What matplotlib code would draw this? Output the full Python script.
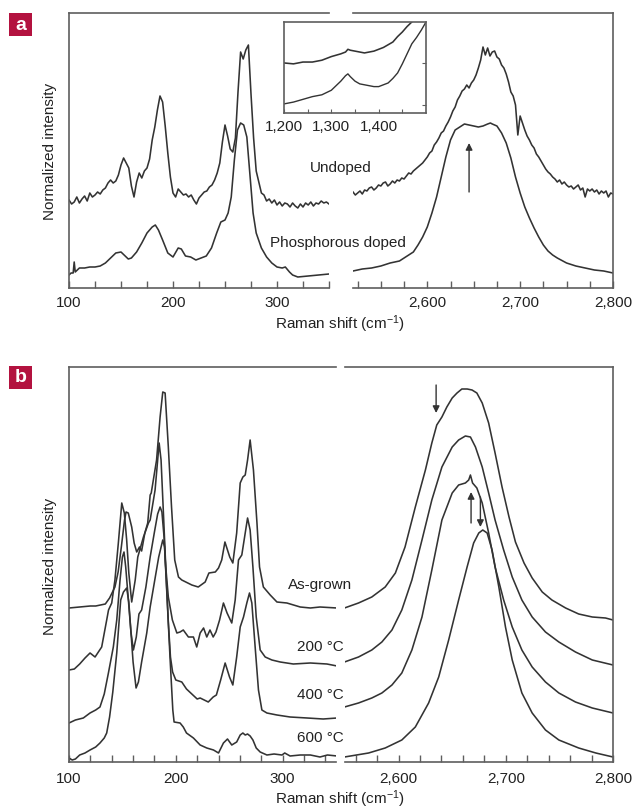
import numpy as np
import matplotlib.pyplot as plt
from matplotlib.patches import Rectangle

plt.rcParams['font.family'] = ['Liberation Sans', 'DejaVu Sans']
plt.rcParams['mathtext.default'] = 'regular'

LINE = '#333333'
FRAME = '#5e5e5e'
TXT = '#222222'
RED = '#b3123f'
W, H = 636, 809
FS = 11
LW = 1.15

# ---- panel a: undoped (noisy) and phosphorous doped ----
a_und_lx = np.arange(100, 352.5, 2.5)
a_und_ly = [88, 84, 86, 91, 85, 89, 92, 87, 95, 91, 93, 96, 94, 98, 100, 105, 108, 105, 107, 113,
            123, 130, 125, 120, 102, 91, 106, 115, 110, 117, 120, 129, 148, 161, 178, 192, 186, 162, 135, 111,
            95, 91, 99, 96, 93, 94, 91, 93, 88, 84, 90, 93, 96, 97, 101, 103, 108, 115, 125, 146,
            163, 152, 139, 136, 150, 196, 236, 229, 238, 243, 194, 150, 117, 106, 95, 93, 87, 89, 85, 88,
            83, 86, 82, 85, 84, 81, 85, 82, 80, 84, 81, 85, 83, 86, 82, 85, 84, 87, 85, 86, 84]
a_und_rx = np.arange(2520, 2802.5, 2.5)
a_und_ry = [96, 93, 95, 97, 94, 98, 97, 100, 101, 98, 100, 103, 102, 105, 106, 102, 104, 107, 105, 108,
            107, 110, 109, 112, 115, 114, 117, 119, 121, 123, 125, 128, 131, 135, 137, 143, 146, 150, 155, 157,
            162, 166, 171, 177, 181, 188, 192, 197, 199, 203, 200, 205, 208, 213, 220, 228, 241, 233, 240, 232,
            236, 237, 231, 229, 223, 220, 214, 206, 196, 192, 183, 153, 172, 165, 158, 152, 148, 143, 140, 134,
            131, 127, 123, 119, 116, 114, 111, 109, 106, 108, 104, 106, 103, 101, 102, 99, 101, 103, 98, 100,
            91, 99, 97, 99, 96, 98, 94, 97, 95, 97, 91, 95, 94]

a_dop_lx = [100, 102, 104, 105, 106, 110, 115, 120, 125, 130, 135, 140, 145, 150, 153, 157, 160, 165, 170, 175,
            180, 183, 186, 190, 195, 200, 205, 208, 212, 217, 222, 227, 232, 237, 242, 246, 250, 253, 256, 259,
            262, 265, 268, 271, 274, 277, 280, 285, 290, 295, 300, 305, 308, 312, 315, 320, 330, 340, 350]
a_dop_ly = [13, 15, 15, 26, 16, 20, 20, 21, 21, 22, 25, 30, 35, 36, 33, 29, 30, 36, 45, 55,
            61, 63, 58, 48, 35, 31, 40, 39, 32, 31, 28, 30, 32, 40, 55, 66, 68, 75, 91, 128,
            158, 165, 163, 151, 113, 75, 55, 40, 31, 25, 21, 20, 21, 16, 13, 11, 12, 13, 14]
a_dop_rx = [2520, 2530, 2540, 2550, 2560, 2570, 2575, 2580, 2585, 2590, 2595, 2600, 2605, 2610, 2615, 2620,
            2625, 2630, 2635, 2640, 2645, 2650, 2655, 2660, 2665, 2668, 2670, 2675, 2680, 2685, 2690, 2695,
            2700, 2705, 2710, 2715, 2720, 2725, 2730, 2735, 2740, 2750, 2760, 2770, 2780, 2790, 2800]
a_dop_ry = [17, 19, 20, 22, 25, 27, 30, 33, 36, 43, 51, 61, 75, 91, 111, 131,
            148, 158, 161, 164, 163, 162, 161, 162, 164, 165, 164, 162, 155, 145, 130, 111,
            95, 81, 70, 60, 51, 43, 37, 33, 30, 25, 22, 20, 18, 17, 15]

# inset (D band region)
in_und_x = [1200, 1220, 1240, 1260, 1280, 1300, 1320, 1330, 1335, 1340, 1350, 1360, 1370, 1380, 1390, 1400,
            1410, 1420, 1430, 1440, 1450, 1460, 1470]
in_und_y = [55, 54, 56, 56, 58, 62, 65, 67, 70, 69, 68, 67, 66, 67, 68, 70, 72, 75, 78, 84, 89, 95, 100]
in_dop_x = [1200, 1220, 1240, 1260, 1280, 1300, 1310, 1320, 1330, 1335, 1340, 1350, 1360, 1370, 1380, 1390,
            1400, 1410, 1420, 1430, 1440, 1450, 1460, 1470, 1480, 1490, 1500]
in_dop_y = [10, 12, 15, 18, 20, 25, 30, 35, 41, 43, 40, 35, 32, 31, 30, 29, 29, 31, 33, 38, 44, 54, 65, 76, 83, 91, 100]

# ---- panel b: annealing series ----
b_names = ['As-grown', '200 \u00b0C', '400 \u00b0C', '600 \u00b0C']
b_lx = [
    [100, 110, 120, 125, 134, 138, 143, 146, 149, 152, 153.4, 155.5, 158.7, 161, 163.4, 166, 168, 171, 173.7, 176,
     177, 182, 185.3, 187.8, 190, 193, 196, 199, 202.5, 205.6, 215, 221, 227.5, 231, 237, 240, 243, 246, 250.5, 253.4,
     257, 260.3, 262.8, 265, 267.2, 269.6, 272.7, 276, 278.4, 282, 288.4, 294.7, 304, 316.5, 326, 335, 351],
    [100, 105, 110, 115, 119.7, 124.4, 130.6, 135.3, 137, 140, 143, 146.2, 149.4, 151.8, 154, 156, 158.7, 162, 164.4, 169.7,
     174.4, 176, 180.6, 184.4, 186.2, 188.4, 190.6, 193, 196.8, 201, 204, 207, 211.8, 216.5, 219.6, 222.8, 226, 229, 232, 235,
     237.6, 241, 244.6, 248, 252.4, 255.6, 258.7, 261.8, 265, 267.2, 269.6, 272.2, 275.3, 279, 283.7, 290, 297.8, 310, 326, 341.5, 351],
    [100, 106, 113.4, 119.7, 125, 129, 133, 136.9, 141.5, 144.7, 147.8, 150, 151.5, 153.1, 155.6, 158, 160.3, 163, 165.5, 168,
     172, 176, 180, 183, 185.3, 187, 189, 191, 193, 195, 197, 200, 205.6, 210, 215, 220, 222.8, 230.4, 235, 238,
     242, 246.2, 250.3, 253.4, 257, 260.3, 263.4, 266.5, 269, 271.2, 274.3, 277.4, 280.6, 285.3, 294.7, 307, 323, 338, 351],
    [100, 103, 106, 110, 115, 119.7, 125, 129, 133, 135.3, 138, 141, 144.7, 148.4, 151, 154, 156, 158, 160, 162.8,
     165, 168, 172.8, 176, 180, 184, 187.8, 189.5, 191.6, 194.7, 197.2, 198.4, 204, 207, 210, 216.5, 222.8, 229, 235.3, 240,
     244.6, 248.4, 252.4, 257, 260.3, 262.8, 265, 267.2, 269.6, 272.2, 275.3, 279, 285.3, 292, 299.4, 302, 307, 316.5, 326, 335, 342, 351],
]
b_ly = [
    [154, 155, 156, 156, 158, 164, 175, 190, 215, 242, 250, 249, 235, 219, 210, 215, 211, 229, 239, 267,
     269, 302, 345, 370, 369, 315, 255, 202, 185, 182, 177, 175, 180, 189, 190, 194, 202, 220, 205, 199,
     229, 279, 285, 287, 302, 322, 292, 239, 195, 175, 167, 160, 159, 155, 154, 155, 154],
    [92, 93, 98, 104, 109, 105, 115, 142, 152, 159, 182, 219, 259, 249, 222, 189, 160, 182, 205, 225,
     239, 242, 272, 319, 302, 249, 195, 165, 142, 129, 130, 132, 125, 125, 115, 129, 134, 125, 132, 125,
     130, 142, 159, 149, 139, 162, 202, 207, 229, 244, 232, 195, 145, 112, 105, 102, 100, 98, 99, 98, 96],
    [39, 42, 44, 49, 52, 55, 68, 89, 115, 142, 182, 205, 210, 195, 162, 130, 112, 125, 148, 152,
     175, 205, 230, 248, 255, 250, 225, 185, 140, 105, 90, 82, 80, 73, 68, 63, 64, 60, 65, 67,
     82, 99, 85, 77, 105, 135, 145, 159, 169, 159, 115, 72, 52, 49, 47, 45, 44, 43, 44],
    [4, 2, 3, 7, 9, 12, 15, 19, 24, 29, 45, 70, 109, 162, 170, 174, 160, 130, 100, 74,
     80, 100, 129, 155, 180, 205, 222, 215, 169, 102, 52, 40, 39, 35, 29, 24, 17, 14, 12, 9,
     19, 23, 17, 20, 27, 29, 27, 28, 26, 22, 14, 10, 7, 8, 7, 9, 6, 7, 7, 5, 7, 6],
]
b_rx = [
    [2549.5, 2562.6, 2575, 2587.5, 2597, 2606, 2615.6, 2625, 2631, 2635.6, 2640.4, 2645, 2650, 2654.5, 2659, 2664,
     2668.5, 2673, 2678, 2684, 2690, 2696.5, 2703, 2709, 2717, 2724.6, 2734, 2743, 2755.8, 2768, 2780.7, 2793, 2800],
    [2549.5, 2562.6, 2575, 2584.4, 2593.8, 2603, 2612.4, 2621.8, 2631, 2640.4, 2650, 2656, 2662.3, 2667, 2671.7, 2678,
     2684, 2690, 2698, 2706, 2715, 2724.6, 2737, 2749.5, 2765, 2780.7, 2800],
    [2549.5, 2562.6, 2575, 2584.4, 2593.8, 2603, 2612.4, 2621.8, 2631, 2640.4, 2650, 2656, 2662.3, 2665.4, 2667, 2669,
     2673, 2678, 2684, 2690, 2698, 2706, 2715, 2724.6, 2737, 2749.5, 2765, 2780.7, 2800],
    [2549.5, 2572, 2587.5, 2603, 2615.6, 2628, 2637.4, 2646.7, 2656, 2663.9, 2670, 2674.8, 2678.5, 2682.6, 2687.2, 2693.5,
     2699.7, 2706, 2715, 2724.6, 2737, 2749.5, 2768, 2784, 2800],
]
b_ry = [
    [154, 159, 165, 175, 189, 215, 255, 292, 319, 337, 345, 355, 364, 369, 373, 373,
     372, 369, 359, 339, 309, 275, 245, 220, 199, 184, 170, 162, 154, 148, 145, 144, 142],
    [100, 105, 112, 120, 132, 152, 182, 222, 262, 295, 315, 322, 326, 325, 315, 295,
     269, 242, 212, 185, 162, 145, 130, 120, 110, 102, 97],
    [55, 59, 64, 69, 77, 89, 112, 145, 192, 242, 269, 277, 279, 282, 287, 279,
     274, 259, 229, 195, 162, 135, 112, 95, 80, 69, 60, 54, 49],
    [5, 9, 14, 22, 35, 59, 85, 122, 162, 195, 219, 229, 232, 229, 212, 175,
     135, 102, 69, 49, 32, 22, 14, 9, 5],
]

fig = plt.figure(figsize=(W / 100, H / 100), dpi=100)


def px_axes(x0, y0, x1, y1):
    return fig.add_axes([x0 / W, 1 - y1 / H, (x1 - x0) / W, (y1 - y0) / H])


def style_pair(axl, axr, lticks, rticks, ymax, pad):
    for ax in (axl, axr):
        ax.set_ylim(0, ymax)
        ax.set_yticks([])
        for s in ax.spines.values():
            s.set_color(FRAME)
            s.set_linewidth(1.2)
        ax.tick_params(axis='x', direction='in', length=5, width=1, color=FRAME,
                       labelsize=FS, pad=pad, labelcolor=TXT)
    axl.spines['right'].set_visible(False)
    axr.spines['left'].set_visible(False)
    axl.set_xticks(lticks)
    axl.set_xticklabels([f'{t:,}' if t % 100 == 0 else '' for t in lticks])
    axr.set_xticks(rticks)
    axr.set_xticklabels([f'{t:,}' if t % 100 == 0 else '' for t in rticks])


# panel a
axa1 = px_axes(69, 13, 329, 288)
axa2 = px_axes(353, 13, 613, 288)
axa1.plot(a_und_lx, a_und_ly, color=LINE, lw=LW)
axa1.plot(a_dop_lx, a_dop_ly, color=LINE, lw=LW)
axa2.plot(a_und_rx, a_und_ry, color=LINE, lw=LW)
axa2.plot(a_dop_rx, a_dop_ry, color=LINE, lw=LW)
axa1.set_xlim(100, 350)
axa2.set_xlim(2520, 2800)
style_pair(axa1, axa2, list(range(100, 351, 25)), list(range(2525, 2801, 25)), 275, 6)
axa2.annotate('', xy=(2645, 145), xytext=(2645, 96),
              arrowprops=dict(arrowstyle='-|>', color=LINE, lw=1.0, mutation_scale=10, shrinkA=0, shrinkB=0))

# inset
axi = px_axes(284, 22, 426, 113)
axi.plot(in_und_x, in_und_y, color=LINE, lw=LW)
axi.plot(in_dop_x, in_dop_y, color=LINE, lw=1.0)
axi.set_xlim(1200, 1500)
axi.set_ylim(0, 100)
axi.set_xticks([1200, 1250, 1300, 1350, 1400, 1450])
axi.set_xticklabels(['1,200', '', '1,300', '', '1,400', ''])
axi.set_yticks([9, 55])
axi.yaxis.tick_right()
axi.tick_params(axis='y', direction='in', length=3, color=FRAME, labelright=False)
axi.tick_params(axis='x', direction='in', length=3, color=FRAME, labelsize=FS, pad=5, labelcolor=TXT)
for s in axi.spines.values():
    s.set_color(FRAME)
    s.set_linewidth(1.2)

fig.text(341 / W, 1 - 168 / H, 'Undoped', ha='center', va='center', fontsize=FS, color=TXT)
fig.text(338 / W, 1 - 243 / H, 'Phosphorous doped', ha='center', va='center', fontsize=FS, color=TXT)

# panel b
axb1 = px_axes(69, 367, 336, 762)
axb2 = px_axes(345, 367, 613, 762)
for xs, ys in zip(b_lx, b_ly):
    axb1.plot(xs, ys, color=LINE, lw=LW)
for xs, ys in zip(b_rx, b_ry):
    axb2.plot(xs, ys, color=LINE, lw=LW)
axb1.set_xlim(100, 350)
axb2.set_xlim(2550, 2800)
style_pair(axb1, axb2, list(range(100, 351, 20)), list(range(2560, 2801, 20)), 395, 7)
for x, tail, head in [(2635, 377, 349), (2667.6, 239, 270), (2676.3, 265, 235)]:
    axb2.annotate('', xy=(x, head), xytext=(x, tail),
                  arrowprops=dict(arrowstyle='-|>', color=LINE, lw=1.0, mutation_scale=10, shrinkA=0, shrinkB=0))

for name, yc, xr in zip(b_names, [585, 647, 695, 738], [352, 344, 344, 344]):
    fig.text(xr / W, 1 - yc / H, name, ha='right', va='center', fontsize=FS, color=TXT)

# shared labels
for yc in (151, 566):
    fig.text(50 / W, 1 - yc / H, 'Normalized intensity', rotation=90, ha='center', va='center',
             fontsize=FS, color=TXT)
for yc in (324, 799):
    fig.text(340 / W, 1 - yc / H, 'Raman shift (cm$^{\u2212 1}$)', ha='center', va='center',
             fontsize=FS, color=TXT)

# panel letters
for letter, y0 in (('a', 13), ('b', 366)):
    fig.patches.append(Rectangle((9 / W, 1 - (y0 + 23) / H), 23 / W, 23 / H, transform=fig.transFigure,
                                 facecolor=RED, edgecolor='none'))
    fig.text(20.5 / W, 1 - (y0 + 12) / H, letter, ha='center', va='center', fontsize=14,
             fontweight='bold', color='white')

fig.savefig('out.png', dpi=100)
